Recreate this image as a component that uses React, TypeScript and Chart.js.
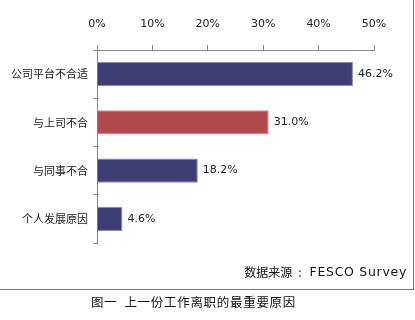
import React, { useEffect, useRef } from "react";
import { Chart, registerables } from "chart.js";

Chart.register(...registerables);

const categories = ["公司平台不合适", "与上司不合", "与同事不合", "个人发展原因"];
const values = [46.2, 31.0, 18.2, 4.6];
const barColors = ["#3c3e74", "#b14a4f", "#3c3e74", "#3c3e74"];
const borderColors = ["#8a8cb2", "#d69495", "#8a8cb2", "#8a8cb2"];
const xTicks = [0, 10, 20, 30, 40, 50];
const sourceLabel = "数据来源";
const sourceName = "FESCO Survey";
const captionText = "图一  上一份工作离职的最重要原因";

const labelPlugin = {
  id: "valueLabels",
  afterDatasetsDraw(chart: any) {
    const ctx = chart.ctx;
    const meta = chart.getDatasetMeta(0);
    ctx.save();
    ctx.font = "11px 'DejaVu Sans', sans-serif";
    ctx.fillStyle = "#222";
    ctx.textAlign = "left";
    ctx.textBaseline = "middle";
    meta.data.forEach((bar: any, i: number) => {
      ctx.fillText(values[i].toFixed(1) + "%", bar.x + 5, bar.y);
    });
    ctx.restore();
  },
};

export default function App() {
  const ref = useRef<HTMLCanvasElement>(null);
  useEffect(() => {
    const chart = new Chart(ref.current!, {
      type: "bar",
      data: {
        labels: categories,
        datasets: [
          {
            data: values,
            backgroundColor: barColors,
            borderColor: borderColors,
            borderWidth: 1,
            barPercentage: 0.5,
            categoryPercentage: 1,
          },
        ],
      },
      options: {
        indexAxis: "y",
        animation: false,
        responsive: false,
        maintainAspectRatio: false,
        layout: { padding: { left: 0, top: 0, right: 41, bottom: 77 } },
        plugins: { legend: { display: false }, tooltip: { enabled: false } },
        scales: {
          x: {
            position: "top",
            min: 0,
            max: 50,
            afterFit: (s: any) => {
              s.height = 50;
            },
            afterBuildTicks: (s: any) => {
              s.ticks = xTicks.map((v) => ({ value: v }));
            },
            ticks: {
              callback: (v: any) => v + "%",
              font: { family: "'DejaVu Sans', sans-serif", size: 11 },
              color: "#222",
              padding: 14,
              maxRotation: 0,
            },
            grid: { drawOnChartArea: false, drawTicks: true, tickLength: 5, color: "#888" },
            border: { display: true, color: "#888" },
          },
          y: {
            afterFit: (s: any) => {
              s.width = 97;
            },
            ticks: {
              font: { family: "'Noto Sans CJK SC', sans-serif", size: 11 },
              color: "#222",
              padding: 5,
            },
            grid: { drawOnChartArea: false, drawTicks: true, tickLength: 4, color: "#888", offset: true },
            border: { display: true, color: "#888" },
          },
        },
      },
      plugins: [labelPlugin],
    } as any);
    return () => chart.destroy();
  }, []);

  return (
    <div
      style={{
        position: "fixed",
        left: 0,
        top: 0,
        width: 415,
        height: 320,
        background: "#fff",
        overflow: "hidden",
      }}
    >
      <div
        style={{
          position: "absolute",
          left: -1,
          top: -1,
          width: 413,
          height: 289,
          border: "1px solid #777",
        }}
      />
      <canvas
        ref={ref}
        width={415}
        height={320}
        style={{ position: "absolute", left: 0, top: 0, width: 415, height: 320 }}
      />
      <div
        style={{
          position: "absolute",
          right: 8,
          top: 262,
          color: "#111",
          whiteSpace: "nowrap",
          lineHeight: "20px",
          display: "flex",
          alignItems: "center",
        }}
      >
        <span style={{ fontFamily: "'Noto Sans CJK SC', sans-serif", fontSize: 12 }}>{sourceLabel}</span>
        <span style={{ fontFamily: "'Noto Sans CJK SC', sans-serif", fontSize: 12, margin: "0 8px 0 6px" }}>:</span>
        <span style={{ fontFamily: "'DejaVu Sans', sans-serif", fontSize: 12.5, letterSpacing: 0.7 }}>{sourceName}</span>
      </div>
      <div
        style={{
          position: "absolute",
          left: 0,
          width: 387,
          textAlign: "center",
          top: 293,
          fontFamily: "'Noto Sans CJK SC', sans-serif",
          fontSize: 12.5,
          letterSpacing: 0.7,
          color: "#111",
          whiteSpace: "pre",
          lineHeight: "18px",
        }}
      >
        {captionText}
      </div>
    </div>
  );
}
